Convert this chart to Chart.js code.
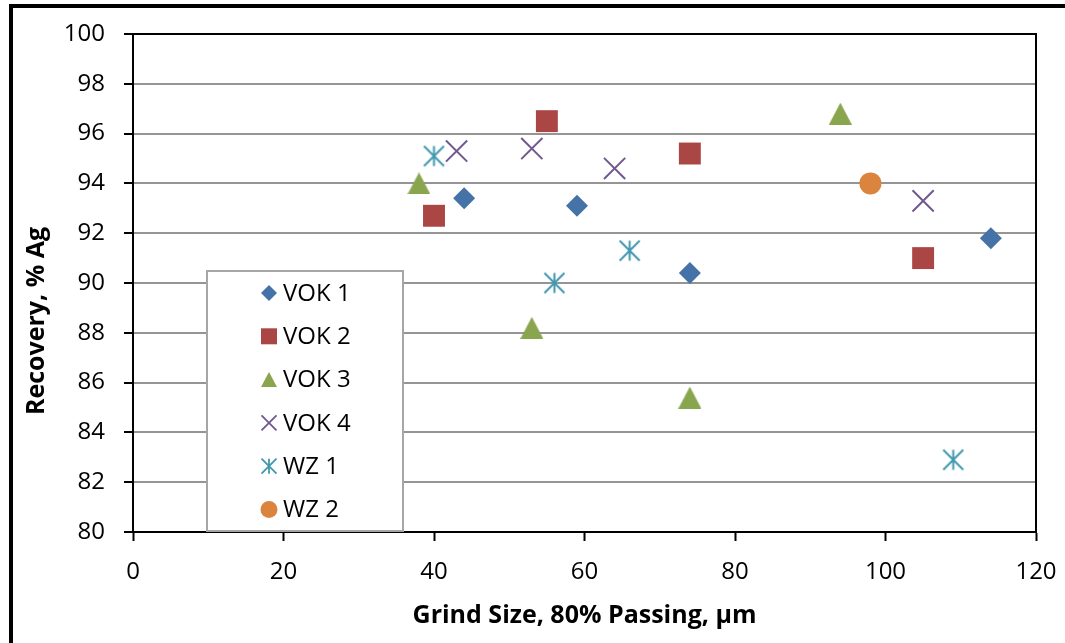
<!DOCTYPE html>
<html>
<head>
<meta charset="utf-8">
<script src="https://cdn.jsdelivr.net/npm/chart.js@4.4.1/dist/chart.umd.min.js"></script>
<style>
  html, body { margin: 0; padding: 0; background: #ffffff; }
  #wrap { position: relative; width: 1065px; height: 643px; }
</style>
</head>
<body>
<div id="wrap"><canvas id="c" width="1065" height="643"></canvas></div>
<script>
// Grind size (µm, 80% passing) and Ag recovery (%) for each test series
const seriesNames = ['VOK 1', 'VOK 2', 'VOK 3', 'VOK 4', 'WZ 1', 'WZ 2'];

const vok1Size = [44, 59, 74, 114];
const vok1Rec  = [93.4, 93.1, 90.4, 91.8];

const vok2Size = [40, 55, 74, 105];
const vok2Rec  = [92.7, 96.5, 95.2, 91.0];

const vok3Size = [38, 53, 74, 94];
const vok3Rec  = [94.0, 88.2, 85.4, 96.8];

const vok4Size = [43, 53, 64, 105];
const vok4Rec  = [95.3, 95.4, 94.6, 93.3];

const wz1Size = [40, 56, 66, 109];
const wz1Rec  = [95.1, 90.0, 91.3, 82.9];

const wz2Size = [98];
const wz2Rec  = [94.0];

// Axis ranges and tick steps
const xMin = 0, xMax = 120, xStep = 20;
const yMin = 80, yMax = 100, yStep = 2;

const xTitle = 'Grind Size, 80% Passing, µm';
const yTitle = 'Recovery, % Ag';

const colors = ['#4572A7', '#AA4643', '#89A54E', '#71588F', '#4198AF', '#DB843D'];

const FONT = '"Open Sans", "Liberation Sans", sans-serif';

function pts(sizes, recs) {
  return sizes.map((s, i) => ({ x: s, y: recs[i] }));
}

// six-spoke asterisk marker (vertical bar plus diagonal cross)
function asteriskPath(g, cx, cy, r) {
  g.beginPath();
  g.moveTo(cx, cy - r); g.lineTo(cx, cy + r);
  g.moveTo(cx - r, cy - r); g.lineTo(cx + r, cy + r);
  g.moveTo(cx + r, cy - r); g.lineTo(cx - r, cy + r);
}
function makeAsterisk(size, color, lw) {
  const c = document.createElement('canvas');
  c.width = size; c.height = size;
  const g = c.getContext('2d');
  g.strokeStyle = color; g.lineWidth = lw;
  asteriskPath(g, size / 2, size / 2, size / 2 - 1.5);
  g.stroke();
  return c;
}
// triangle marker centred in its bounding box
function trianglePath(g, cx, cy, w, h) {
  g.beginPath();
  g.moveTo(cx, cy - h / 2);
  g.lineTo(cx + w / 2, cy + h / 2);
  g.lineTo(cx - w / 2, cy + h / 2);
  g.closePath();
}
function makeTriangle(w, h, color) {
  const c = document.createElement('canvas');
  c.width = w; c.height = h;
  const g = c.getContext('2d');
  g.fillStyle = color;
  trianglePath(g, w / 2, h / 2, w, h);
  g.fill();
  return c;
}

const datasets = [
  { label: seriesNames[0], data: pts(vok1Size, vok1Rec), pointStyle: 'rectRot', pointRadius: 11,
    backgroundColor: colors[0], borderColor: colors[0], pointBorderWidth: 0 },
  { label: seriesNames[1], data: pts(vok2Size, vok2Rec), pointStyle: 'rect', pointRadius: 15.5,
    backgroundColor: colors[1], borderColor: colors[1], pointBorderWidth: 0 },
  { label: seriesNames[2], data: pts(vok3Size, vok3Rec), pointStyle: makeTriangle(23, 22, colors[2]), pointRadius: 11,
    backgroundColor: colors[2], borderColor: colors[2], pointBorderWidth: 0 },
  { label: seriesNames[3], data: pts(vok4Size, vok4Rec), pointStyle: 'crossRot', pointRadius: 15,
    backgroundColor: colors[3], borderColor: colors[3], pointBorderWidth: 2 },
  { label: seriesNames[4], data: pts(wz1Size, wz1Rec), pointStyle: makeAsterisk(23, colors[4], 2), pointRadius: 11,
    backgroundColor: colors[4], borderColor: colors[4], pointBorderWidth: 0 },
  { label: seriesNames[5], data: pts(wz2Size, wz2Rec), pointStyle: 'circle', pointRadius: 11,
    backgroundColor: colors[5], borderColor: colors[5], pointBorderWidth: 0 }
];

// outer frame, plot border, rotated y title and the in-plot legend box
const decorations = {
  id: 'decorations',
  beforeDraw(chart) {
    const g = chart.ctx;
    g.save();
    g.fillStyle = '#000';
    g.fillRect(9, 4, 1056, 4);
    g.fillRect(9, 4, 4, 639);
    g.restore();
  },
  beforeDatasetsDraw(chart) {
    const g = chart.ctx;
    const a = chart.chartArea;
    g.save();
    g.strokeStyle = '#000';
    g.lineWidth = 2;
    g.strokeRect(a.left, a.top, a.right - a.left, a.bottom - a.top);
    g.restore();
  },
  afterDatasetsDraw(chart) {
    const g = chart.ctx;
    const a = chart.chartArea;

    // y axis title
    g.save();
    g.translate(37, 321);
    g.rotate(-Math.PI / 2);
    g.font = 'bold 25px ' + FONT;
    g.fillStyle = '#000';
    g.textAlign = 'center';
    g.textBaseline = 'middle';
    g.fillText(yTitle, 0, 0);
    g.restore();

    // legend
    const bx = a.left + 74, by = a.top + 237, bw = 196, bh = 260;
    g.save();
    g.fillStyle = '#fff';
    g.fillRect(bx, by, bw, bh);
    g.strokeStyle = '#A6A6A6';
    g.lineWidth = 2;
    g.strokeRect(bx, by, bw, bh);
    const mx = bx + 62, tx = bx + 76;
    g.font = '24px ' + FONT;
    g.textBaseline = 'middle';
    g.textAlign = 'left';
    datasets.forEach((ds, i) => {
      const cy = by + 22 + i * 43.3;
      const col = colors[i];
      g.fillStyle = col; g.strokeStyle = col; g.lineWidth = 2;
      if (i === 0) {
        g.beginPath();
        g.moveTo(mx, cy - 8); g.lineTo(mx + 8, cy); g.lineTo(mx, cy + 8); g.lineTo(mx - 8, cy);
        g.closePath(); g.fill();
      } else if (i === 1) {
        g.fillRect(mx - 8, cy - 8, 16, 16);
      } else if (i === 2) {
        trianglePath(g, mx, cy, 16, 15); g.fill();
      } else if (i === 3) {
        g.lineWidth = 1.8;
        g.beginPath();
        g.moveTo(mx - 7.5, cy - 7.5); g.lineTo(mx + 7.5, cy + 7.5);
        g.moveTo(mx + 7.5, cy - 7.5); g.lineTo(mx - 7.5, cy + 7.5);
        g.stroke();
      } else if (i === 4) {
        g.lineWidth = 1.8;
        asteriskPath(g, mx, cy, 7.5); g.stroke();
      } else {
        g.beginPath(); g.arc(mx, cy, 8.5, 0, Math.PI * 2); g.fill();
      }
      g.fillStyle = '#000';
      g.fillText(ds.label, tx, cy + 1);
    });
    g.restore();
  }
};

new Chart(document.getElementById('c'), {
  type: 'scatter',
  data: { datasets },
  options: {
    responsive: false,
    animation: false,
    events: [],
    devicePixelRatio: 1,
    layout: { padding: { top: 34, right: 29, left: 0, bottom: 0 } },
    plugins: { legend: { display: false }, tooltip: { enabled: false } },
    scales: {
      x: {
        type: 'linear', position: 'bottom',
        min: xMin, max: xMax,
        ticks: { stepSize: xStep, color: '#000', padding: 17, font: { family: FONT, size: 24 } },
        grid: { drawOnChartArea: false, drawTicks: true, tickLength: 9, tickColor: '#000', tickWidth: 2 },
        border: { display: true, color: '#000', width: 2 },
        title: { display: true, text: xTitle, color: '#000', padding: { top: 0, bottom: 12 },
                 font: { family: FONT, size: 25, weight: 'bold' } },
        afterFit(scale) { scale.height = 111; scale.paddingLeft = 0; scale.paddingRight = 0; }
      },
      y: {
        type: 'linear', position: 'left',
        min: yMin, max: yMax,
        ticks: { stepSize: yStep, color: '#000', padding: 19, font: { family: FONT, size: 24 } },
        grid: { color: '#959595', lineWidth: 2, drawTicks: true, tickLength: 9, tickColor: '#000', tickWidth: 2 },
        border: { display: true, color: '#000', width: 2 },
        title: { display: false },
        afterFit(scale) { scale.width = 133; scale.paddingTop = 0; scale.paddingBottom = 0; }
      }
    }
  },
  plugins: [decorations]
});
</script>
</body>
</html>
